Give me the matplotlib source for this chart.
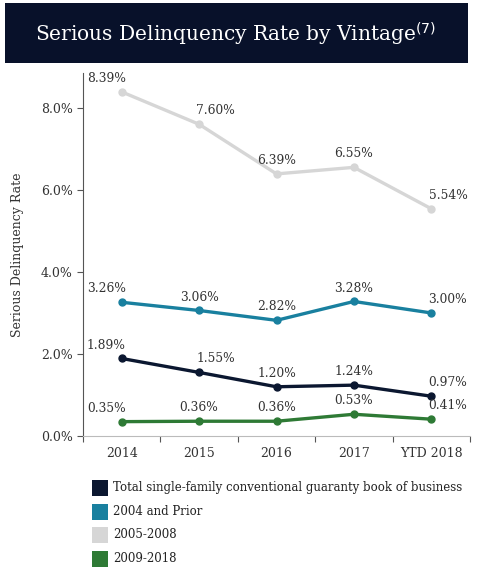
import matplotlib
matplotlib.use("Agg")
import matplotlib.pyplot as plt
from matplotlib.patches import Rectangle
import numpy as np

plt.rcParams.update({
    "font.family": ["DejaVu Serif"],
    "font.size": 9,
})

categories = ["2014", "2015", "2016", "2017", "YTD 2018"]
total_book = [1.89, 1.55, 1.20, 1.24, 0.97]
prior_2004 = [3.26, 3.06, 2.82, 3.28, 3.00]
vint_2005_2008 = [8.39, 7.60, 6.39, 6.55, 5.54]
vint_2009_2018 = [0.35, 0.36, 0.36, 0.53, 0.41]
series_names = [
    "Total single-family conventional guaranty book of business",
    "2004 and Prior",
    "2005-2008",
    "2009-2018",
]
y_ticks = [0.0, 2.0, 4.0, 6.0, 8.0]

colors = ["#0b1730", "#19809f", "#d6d6d6", "#2e7a35"]
# horizontal alignment of the value labels, per series and category
label_ha = [
    ["right", "left", "center", "center", "left"],
    ["right", "center", "center", "center", "left"],
    ["right", "left", "center", "center", "left"],
    ["right", "center", "center", "center", "left"],
]
label_dx = {"right": 3, "left": -2, "center": 0}

fig = plt.figure(figsize=(4.79, 5.70), dpi=100)

# title banner
fig.patches.append(Rectangle((5 / 479, 1 - 63 / 570), 463 / 479, 60 / 570,
                             transform=fig.transFigure, facecolor="#08112a",
                             edgecolor="none", zorder=0))
fig.text(35 / 479, 1 - 34 / 570, r"Serious Delinquency Rate by Vintage$^{(7)}$",
         color="white", fontsize=14.5, va="center", ha="left")

ax = fig.add_axes([83 / 479, 1 - 436 / 570, 387 / 479, 363 / 570])
x = np.arange(len(categories))

all_series = [total_book, prior_2004, vint_2005_2008, vint_2009_2018]
for vals, col, has in zip(all_series, colors, label_ha):
    ax.plot(x, vals, "-o", color=col, lw=2.4, ms=5, zorder=3)
    for xi, v, ha in zip(x, vals, has):
        ax.annotate(f"{v:.2f}%", (xi, v), xytext=(label_dx[ha], 5),
                    textcoords="offset points", ha=ha, va="bottom",
                    fontsize=8.8, color="#333333")

ax.set_xlim(-0.5, len(categories) - 0.5)
ax.set_ylim(0, 8.85)
ax.set_yticks(y_ticks)
ax.set_yticklabels([f"{t:.1f}%" for t in y_ticks])
ax.set_xticks(np.arange(-0.5, len(categories)), minor=False)
ax.set_xticklabels([])
ax.set_xticks(x, minor=True)
ax.set_xticklabels(categories, minor=True)
ax.tick_params(axis="x", which="major", length=4, color="#555555")
ax.tick_params(axis="x", which="minor", length=0, pad=8, labelsize=9, labelcolor="#333333")
ax.tick_params(axis="y", length=4, color="#555555", labelsize=9, labelcolor="#333333")
ax.set_ylabel("Serious Delinquency Rate", fontsize=9, color="#333333", labelpad=12)

for s in ["top", "right"]:
    ax.spines[s].set_visible(False)
ax.spines["left"].set_color("#555555")
ax.spines["bottom"].set_color("#bbbbbb")

# legend
for i, (name, col) in enumerate(zip(series_names, colors)):
    yc = 1 - (488 + i * 23.5) / 570
    fig.patches.append(Rectangle((92 / 479, yc - 8 / 570), 16 / 479, 16 / 570,
                                 transform=fig.transFigure, facecolor=col,
                                 edgecolor="none"))
    fig.text(113 / 479, yc, name, fontsize=8.5, va="center", ha="left", color="#222222")

fig.savefig("out.png", dpi=100)
